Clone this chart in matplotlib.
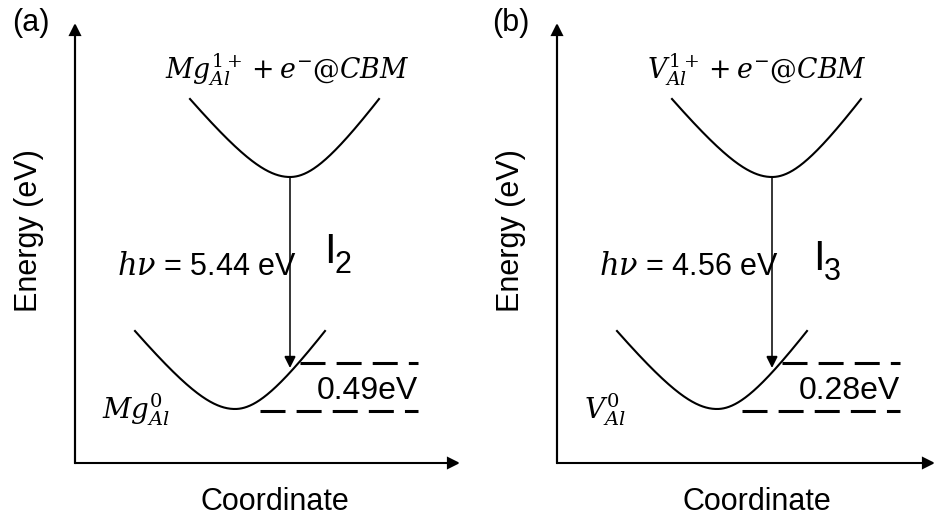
import numpy as np
import matplotlib
matplotlib.use("Agg")
import matplotlib.pyplot as plt

plt.rcParams["font.family"] = ["Liberation Sans", "DejaVu Sans"]
plt.rcParams["mathtext.fontset"] = "custom"
plt.rcParams["mathtext.rm"] = "DejaVu Serif"
plt.rcParams["mathtext.it"] = "DejaVu Serif:italic"
plt.rcParams["mathtext.sf"] = "Liberation Sans"

# ---- content of the two configuration-coordinate panels ----
panel_tags = ["(a)", "(b)"]
excited_labels = [r"$Mg_{Al}^{1+} + e^{-}@CBM$", r"$V_{Al}^{1+} + e^{-}@CBM$"]
ground_labels = [r"$Mg_{Al}^{0}$", r"$V_{Al}^{0}$"]
photon_energy_eV = [5.44, 4.56]
relaxation_eV = [0.49, 0.28]
peak_names = ["I", "I"]
peak_index = ["2", "3"]
x_label = "Coordinate"
y_label = "Energy (eV)"

# ---- schematic layout (canvas units = pixels, y grows downward) ----
panel_dx = [0, 482]
axis_origin = (75, 463)
y_axis_top = 23
x_axis_end = [460, 453]
# potential-energy wells: (vertex x, vertex y, left half-width, right half-width)
wells = [(290, 177, 100, 89), (235, 409, 100, 90)]
well_depth = 78
well_b = 50.0
arrow_x, arrow_top, arrow_tip = 290, 177, 368
levels = [(300, 362.5), (260, 410.7)]   # (start x, y) of dashed levels
level_end = 418
peak_pos = [(324, 263), (331, 270)]

W, H = 936, 519
fig = plt.figure(figsize=(W / 100, H / 100), dpi=100)
ax = fig.add_axes([0, 0, 1, 1])
ax.set_xlim(0, W)
ax.set_ylim(H, 0)
ax.axis("off")


def well_curve(xv, yv, hl, hr):
    x = np.linspace(xv - hl, xv + hr, 300)
    u = np.where(x < xv, (x - xv), (x - xv) * hl / hr)
    a = well_depth / (np.sqrt(1 + (hl / well_b) ** 2) - 1)
    y = yv - a * (np.sqrt(1 + (u / well_b) ** 2) - 1)
    return x, y


def arrow(x0, y0, x1, y1, lw, ms):
    ax.annotate("", xy=(x1, y1), xytext=(x0, y0),
                arrowprops=dict(arrowstyle="-|>,head_length=0.5,head_width=0.25",
                                color="black", lw=lw, mutation_scale=ms,
                                shrinkA=0, shrinkB=0, joinstyle="miter"))


for i in range(2):
    dx = panel_dx[i]
    ox, oy = axis_origin
    # axes
    ax.plot([ox + dx, ox + dx], [oy, y_axis_top + 8], color="black", lw=1.5,
            solid_capstyle="projecting")
    arrow(ox + dx, oy, ox + dx, y_axis_top, 1.5, 14)
    arrow(ox + dx, oy, x_axis_end[i] + dx, oy, 1.5, 14)

    # wells
    for (xv, yv, hl, hr) in wells:
        x, y = well_curve(xv + dx, yv, hl, hr)
        ax.plot(x, y, color="black", lw=1.5)

    # vertical emission arrow
    arrow(arrow_x + dx, arrow_top, arrow_x + dx, arrow_tip, 1.1, 14)

    # dashed energy levels
    lw = 2.2
    for (xs, yl) in levels:
        ax.plot([xs + dx, level_end + dx], [yl, yl], color="black", lw=lw,
                dashes=(18 / lw, 8 / lw), solid_capstyle="butt")

    # texts
    ax.text(12 + dx - (2 if i else 0), 31, panel_tags[i], fontsize=22,
            ha="left", va="baseline")
    ax.text(165 + dx, 79, excited_labels[i], fontsize=19.3, ha="left",
            va="baseline")
    ax.text(102 + dx, 418, ground_labels[i], fontsize=20, ha="left",
            va="baseline")
    ax.text(117 + dx, 275, r"$h\nu$" + f" = {photon_energy_eV[i]:.2f} eV",
            fontsize=22, ha="left", va="baseline")
    px, py = peak_pos[i]
    ax.text(px + dx, py, peak_names[i], fontsize=30, ha="left", va="baseline")
    ax.text(px + 11 + dx, py + 10, peak_index[i], fontsize=22, ha="left",
            va="baseline")
    ax.text(level_end + dx, 399, f"{relaxation_eV[i]:.2f}eV", fontsize=23,
            ha="right", va="baseline")
    ax.text(275 + dx, 510, x_label, fontsize=22, ha="center", va="baseline")
    ax.text(29 + dx, 231, y_label, fontsize=22, ha="center", va="center",
            rotation=90)

fig.savefig("out.png", dpi=100)
